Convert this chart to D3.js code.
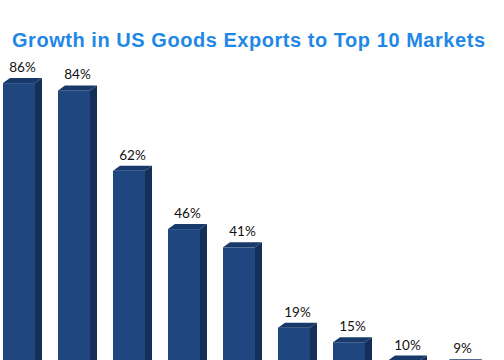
<!DOCTYPE html>
<html><head><meta charset="utf-8">
<script src="https://cdn.jsdelivr.net/npm/d3@7"></script>
<style>html,body{margin:0;padding:0;background:#fff;overflow:hidden}</style>
</head><body>
<svg id="c" width="504" height="360"></svg>
<script>
const categories = ["Market 1","Market 2","Market 3","Market 4","Market 5","Market 6","Market 7","Market 8","Market 9"];
const values = [86, 84, 62, 46, 41, 19, 15, 10, 9];
const titleText = "Growth in US Goods Exports to Top 10 Markets";

const svg = d3.select("#c");
const x = d3.scaleBand().domain(categories).range([3, 475]).paddingInner(0.418).paddingOuter(0);
const y = d3.scaleLinear().domain([0, 100]).range([397, 32]);
const dx = 7, dy = 5;

svg.append("text").attr("x", 12).attr("y", 47).attr("text-anchor", "start")
  .attr("font-family", "Liberation Sans, Arial, sans-serif").attr("font-weight", "bold")
  .attr("font-size", 20).attr("fill", "#1f88e6")
  .attr("textLength", 473).attr("lengthAdjust", "spacing").text(titleText);

const g = svg.append("g");
const bars = g.selectAll("g.bar").data(values).join("g").attr("class","bar");
const base = y(0);
bars.each(function(v, i){
  const sel = d3.select(this);
  const x0 = x(categories[i]), w = x.bandwidth(), yt = y(v);
  sel.append("path").attr("d", `M${x0+w},${yt} L${x0+w+dx},${yt-dy} L${x0+w+dx},${base-dy} L${x0+w},${base} Z`).attr("fill", "#142f58");
  sel.append("rect").attr("x", x0).attr("y", yt).attr("width", w).attr("height", base-yt).attr("fill", "#1f467f");
  sel.append("path").attr("d", `M${x0},${yt} L${x0+dx},${yt-dy} L${x0+w+dx},${yt-dy} L${x0+w},${yt} Z`).attr("fill", "#183a6b");
  sel.append("text").attr("x", x0 + w/2 + dx/2).attr("y", yt - dy - 6).attr("text-anchor","middle")
    .attr("font-family", "Lato, sans-serif").attr("font-size", 13.5).attr("fill", "#111").text(v + "%");
});
</script>
</body></html>
